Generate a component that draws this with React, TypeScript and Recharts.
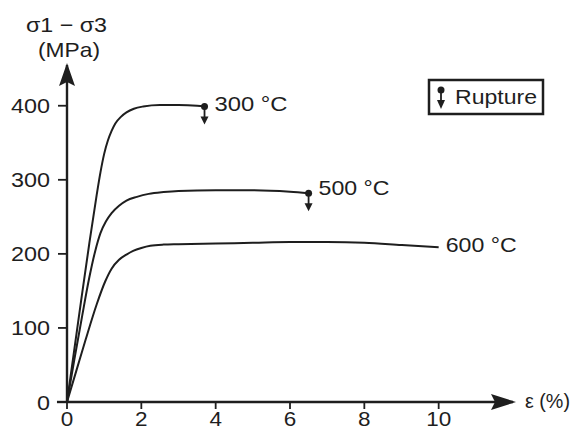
import { LineChart, Line, XAxis, YAxis, ReferenceDot, ReferenceLine } from "recharts";

const FONT = "'Liberation Sans', Arial, sans-serif";
const INK = "#1e1e1e";

// strain (%) ticks and stress (MPa) ticks
const strainTicks = [0, 2, 4, 6, 8, 10];
const stressTicks = [0, 100, 200, 300, 400];

// 300 °C curve
const strain300 = [0, 0.2, 0.4, 0.6, 0.8, 0.9, 1.0, 1.1, 1.2, 1.3, 1.45, 1.6, 1.8, 2.05, 2.5, 3.0, 3.5, 3.7];
const stress300 = [0, 72, 144, 214, 280, 310, 335, 353, 366, 376, 385, 391, 396, 399, 401, 401, 400, 399];

// 500 °C curve
const strain500 = [0, 0.2, 0.4, 0.6, 0.76, 0.9, 1.05, 1.2, 1.4, 1.6, 1.88, 2.2, 2.6, 3.0, 4, 5, 6, 6.5];
const stress500 = [0, 58, 114, 168, 204, 228, 244, 255, 265, 272, 277, 281, 283.5, 285, 286, 286, 284, 282];

// 600 °C curve
const strain600 = [0, 0.25, 0.5, 0.8, 1.03, 1.2, 1.4, 1.6, 1.78, 2.0, 2.24, 2.6, 3, 4, 5, 6, 7, 8, 9, 10];
const stress600 = [0, 42, 84, 132, 163, 180, 192, 199, 204, 208, 211, 212.5, 213, 214, 215, 216, 216, 215, 212, 209];

const curveLabels = ["300 °C", "500 °C", "600 °C"];

const zip = (xs: number[], ys: number[]) => xs.map((x, i) => ({ x, y: ys[i] }));

const data300 = zip(strain300, stress300);
const data500 = zip(strain500, stress500);
const data600 = zip(strain600, stress600);

const last = (d: { x: number; y: number }[]) => d[d.length - 1];

// the source figure's lettering is a bit wider than Arial, so stretch it
function Wide(props: any) {
  const { width, children, ...rest } = props;
  return (
    <text fontSize={21} fontFamily={FONT} fill={INK} textLength={width} lengthAdjust="spacingAndGlyphs" {...rest}>
      {children}
    </text>
  );
}

function RuptureMark(props: any) {
  const { cx, cy, text, dx, dy, w } = props;
  return (
    <g>
      <circle cx={cx} cy={cy} r={3.5} fill={INK} />
      <line x1={cx} y1={cy} x2={cx} y2={cy + 12} stroke={INK} strokeWidth={1.8} />
      <polygon points={`${cx - 4},${cy + 10} ${cx + 4},${cy + 10} ${cx},${cy + 18}`} fill={INK} />
      <Wide x={cx + dx} y={cy + dy} width={w} dominantBaseline="middle">
        {text}
      </Wide>
    </g>
  );
}

function EndLabel(props: any) {
  const { cx, cy, text, dx, dy, w } = props;
  return (
    <Wide x={cx + dx} y={cy + dy} width={w} dominantBaseline="middle">
      {text}
    </Wide>
  );
}

function UpArrow(props: any) {
  const { cx, cy } = props;
  return <polygon points={`${cx},${cy - 2} ${cx - 8},${cy + 21} ${cx},${cy + 17} ${cx + 8},${cy + 21}`} fill={INK} />;
}

function RightArrow(props: any) {
  const { cx, cy } = props;
  return <polygon points={`${cx + 3},${cy} ${cx - 22},${cy - 8} ${cx - 18},${cy} ${cx - 22},${cy + 8}`} fill={INK} />;
}

function XTick(props: any) {
  const { x, y, payload } = props;
  const s = String(payload.value);
  return (
    <Wide x={x} y={y} width={s.length * 12.5} fontSize={20} textAnchor="middle" dy="0.71em">
      {s}
    </Wide>
  );
}

function YTick(props: any) {
  const { x, y, payload } = props;
  const s = String(payload.value);
  return (
    <Wide x={x} y={y} width={s.length * 13} textAnchor="end" dy="0.36em">
      {s}
    </Wide>
  );
}

export default function App() {
  return (
    <div style={{ position: "absolute", left: 0, top: 0, width: 580, height: 430, background: "#fff", overflow: "hidden" }}>
      <LineChart width={580} height={430} margin={{ top: 65, right: 67, left: 7, bottom: 0 }}>
        <XAxis
          type="number"
          dataKey="x"
          domain={[0, 12]}
          ticks={strainTicks}
          allowDataOverflow
          height={28}
          tickSize={7}
          tickMargin={3}
          tick={<XTick />}
          axisLine={{ stroke: INK, strokeWidth: 2.4 }}
          tickLine={{ stroke: INK, strokeWidth: 1.8 }}
        />
        <YAxis
          type="number"
          dataKey="y"
          domain={[0, 455]}
          ticks={stressTicks}
          allowDataOverflow
          width={60}
          tickSize={9}
          tickMargin={8}
          tick={<YTick />}
          axisLine={{ stroke: INK, strokeWidth: 2.4 }}
          tickLine={{ stroke: INK, strokeWidth: 1.8 }}
        />
        <ReferenceLine
          segment={[{ x: -0.27, y: 0 }, { x: 0, y: 0 }]}
          stroke={INK}
          strokeWidth={2.4}
          ifOverflow="visible"
        />
        <Line data={data300} dataKey="y" type="monotone" stroke={INK} strokeWidth={2} dot={false} isAnimationActive={false} />
        <Line data={data500} dataKey="y" type="monotone" stroke={INK} strokeWidth={2} dot={false} isAnimationActive={false} />
        <Line data={data600} dataKey="y" type="monotone" stroke={INK} strokeWidth={2} dot={false} isAnimationActive={false} />
        <ReferenceDot
          x={last(data300).x}
          y={last(data300).y}
          ifOverflow="visible"
          shape={(p: any) => <RuptureMark {...p} text={curveLabels[0]} dx={10} dy={-1} w={73} />}
        />
        <ReferenceDot
          x={last(data500).x}
          y={last(data500).y}
          ifOverflow="visible"
          shape={(p: any) => <RuptureMark {...p} text={curveLabels[1]} dx={10} dy={-4} w={71} />}
        />
        <ReferenceDot
          x={last(data600).x}
          y={last(data600).y}
          ifOverflow="visible"
          shape={(p: any) => <EndLabel {...p} text={curveLabels[2]} dx={7} dy={-1} w={71} />}
        />
        <ReferenceDot x={0} y={455} ifOverflow="visible" shape={(p: any) => <UpArrow {...p} />} />
        <ReferenceDot x={12} y={0} ifOverflow="visible" shape={(p: any) => <RightArrow {...p} />} />
      </LineChart>
      <svg width={580} height={430} style={{ position: "absolute", left: 0, top: 0, pointerEvents: "none" }}>
        <Wide x={26} y={32} width={81}>
          σ1 − σ3
        </Wide>
        <Wide x={38} y={57} width={62}>
          (MPa)
        </Wide>
        <Wide x={525} y={408} width={45}>
          ε (%)
        </Wide>
        <rect x={429} y={80} width={114} height={34} fill="none" stroke={INK} strokeWidth={2.5} />
        <circle cx={441} cy={90} r={3.5} fill={INK} />
        <line x1={441} y1={90} x2={441} y2={103} stroke={INK} strokeWidth={1.8} />
        <polygon points="437,100 445,100 441,109" fill={INK} />
        <Wide x={455} y={104} width={82}>
          Rupture
        </Wide>
      </svg>
    </div>
  );
}
